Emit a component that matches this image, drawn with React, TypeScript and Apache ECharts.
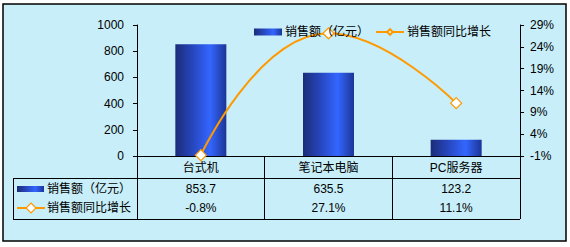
import React, { useEffect, useRef } from "react";
import * as echarts from "echarts";

const categories = ["台式机", "笔记本电脑", "PC服务器"];
const salesValues = [853.7, 635.5, 123.2];
const growthValues = [-0.8, 27.1, 11.1];
const salesName = "销售额（亿元）";
const growthName = "销售额同比增长";

const FONT = "'Liberation Sans', 'Noto Sans CJK SC', sans-serif";
const ORANGE = "#FF9900";
const BG = "#C7EEF9";

const barGradient = () =>
  new echarts.graphic.LinearGradient(0, 0, 1, 0, [
    { offset: 0, color: "#1B2C78" },
    { offset: 0.35, color: "#2747C0" },
    { offset: 0.68, color: "#3366FF" },
    { offset: 1, color: "#1C3596" },
  ]);

// table geometry
const GRID_LEFT = 137;
const GRID_RIGHT_X = 520;
const AXIS_Y = 156;
const ROW1_Y = 178;
const ROW2_Y = 219;
const TABLE_LEFT = 13;

const legendBase = {
  top: 21,
  itemWidth: 28,
  itemHeight: 7,
  textStyle: { fontSize: 12, color: "#000", fontFamily: FONT, padding: [0, 0, 0, -2] },
};

export default function App() {
  const ref = useRef<HTMLDivElement>(null);

  useEffect(() => {
    if (!ref.current) return;
    const chart = echarts.init(ref.current, null, { renderer: "svg" });
    chart.setOption({
      animation: false,
      textStyle: { fontFamily: FONT },
      legend: [
        { ...legendBase, left: 249, data: [{ name: salesName, icon: "rect" }] },
        { ...legendBase, left: 370, data: [{ name: growthName }] },
      ],
      grid: { left: GRID_LEFT, right: 570 - GRID_RIGHT_X, top: 25, height: AXIS_Y - 25 },
      xAxis: {
        type: "category",
        data: categories,
        boundaryGap: true,
        axisLine: { lineStyle: { color: "#000", width: 1 } },
        axisTick: { show: true, length: ROW2_Y - AXIS_Y, lineStyle: { color: "#000" } },
        axisLabel: { color: "#000", fontSize: 12, margin: 6, fontFamily: FONT },
      },
      yAxis: [
        {
          type: "value",
          min: 0,
          max: 1000,
          interval: 200,
          splitLine: { show: false },
          axisLine: { show: true, lineStyle: { color: "#000" } },
          axisTick: { show: true, length: 4, lineStyle: { color: "#000" } },
          axisLabel: {
            color: "#000",
            fontSize: 12,
            margin: 13,
            fontFamily: FONT,
            formatter: (v: number) => String(v),
          },
        },
        {
          type: "value",
          min: -1,
          max: 29,
          interval: 5,
          position: "right",
          splitLine: { show: false },
          axisLine: { show: true, lineStyle: { color: "#000" } },
          axisTick: { show: true, length: 4, lineStyle: { color: "#000" } },
          axisLabel: {
            color: "#000",
            fontSize: 12,
            margin: 10,
            fontFamily: FONT,
            formatter: (v: number) => `${v}%`,
          },
        },
      ],
      series: [
        {
          name: salesName,
          type: "bar",
          data: salesValues,
          barWidth: 51,
          itemStyle: { color: barGradient() },
          z: 2,
        },
        {
          name: growthName,
          type: "line",
          yAxisIndex: 1,
          data: growthValues,
          smooth: true,
          symbol: "diamond",
          symbolSize: 11,
          lineStyle: { color: ORANGE, width: 2 },
          itemStyle: { color: "#FFFFFF", borderColor: ORANGE, borderWidth: 1.2 },
          z: 3,
        },
      ],
    });

    const centers = categories.map((c) => chart.convertToPixel({ xAxisIndex: 0 }, c) as number);
    const rowA = (ROW1_Y + ROW2_Y) / 2 - 9.5;
    const rowB = (ROW1_Y + ROW2_Y) / 2 + 9.5;
    const txt = (x: number, y: number, text: string, align = "center") => ({
      type: "text",
      x,
      y,
      silent: true,
      style: {
        text,
        fill: "#000",
        font: `12px ${FONT}`,
        align,
        verticalAlign: "middle",
      },
    });
    const line = (x1: number, y1: number, x2: number, y2: number, stroke = "#000", lineWidth = 1) => ({
      type: "line",
      silent: true,
      shape: { x1, y1, x2, y2 },
      style: { stroke, lineWidth },
    });

    chart.setOption({
      graphic: [
        {
          type: "rect",
          z: -10,
          silent: true,
          shape: { x: 3, y: 4, width: 563, height: 237 },
          style: { fill: BG, stroke: "#000", lineWidth: 1.5 },
        },
        line(TABLE_LEFT, ROW1_Y + 0.5, GRID_RIGHT_X, ROW1_Y + 0.5),
        line(TABLE_LEFT, ROW2_Y + 0.5, GRID_RIGHT_X, ROW2_Y + 0.5),
        line(TABLE_LEFT + 0.5, ROW1_Y, TABLE_LEFT + 0.5, ROW2_Y + 1),
        {
          type: "rect",
          silent: true,
          shape: { x: 17, y: rowA - 3, width: 27, height: 6 },
          style: { fill: barGradient() },
        },
        txt(47, rowA, salesName, "left"),
        line(17, rowB, 45, rowB, ORANGE, 2),
        {
          type: "polygon",
          silent: true,
          shape: { points: [[31, rowB - 5], [36, rowB], [31, rowB + 5], [26, rowB]] },
          style: { fill: "#fff", stroke: ORANGE, lineWidth: 1.2 },
        },
        txt(47, rowB, growthName, "left"),
        ...categories.map((_, i) => txt(centers[i], rowA, salesValues[i].toFixed(1))),
        ...categories.map((_, i) => txt(centers[i], rowB, `${growthValues[i].toFixed(1)}%`)),
      ],
    });

    return () => chart.dispose();
  }, []);

  return (
    <div
      ref={ref}
      style={{ position: "absolute", left: 0, top: 0, width: 570, height: 247, background: "#fff" }}
    />
  );
}
